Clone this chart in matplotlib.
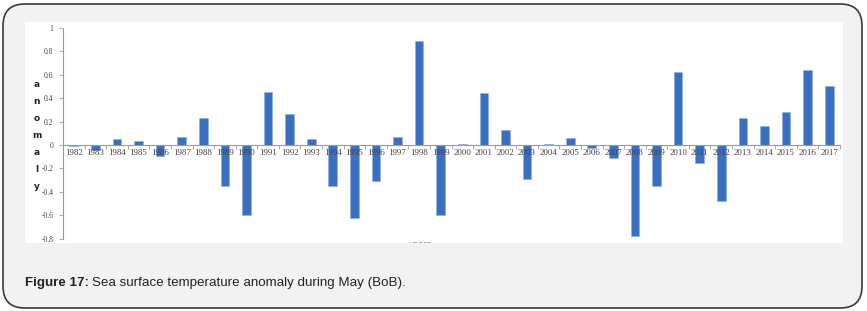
import matplotlib.pyplot as plt
from matplotlib.patches import FancyBboxPatch, Rectangle
from matplotlib.ticker import FuncFormatter, MultipleLocator

# Anomalia SST de mayo, Bahia de Bengala
years = [str(y) for y in range(1982, 2018)]
anomaly = [
    -0.01, -0.04, 0.05, 0.03, -0.09, 0.07, 0.23, -0.35, -0.60, 0.45,
    0.26, 0.05, -0.35, -0.62, -0.31, 0.07, 0.89, -0.60, 0.01, 0.44,
    0.13, -0.29, 0.01, 0.06, -0.03, -0.11, -0.78, -0.35, 0.62, -0.15,
    -0.48, 0.23, 0.16, 0.28, 0.64, 0.50,
]
y_ticks = [-0.8, -0.6, -0.4, -0.2, 0, 0.2, 0.4, 0.6, 0.8, 1]

BAR_COLOR = "#3a6fc1"
W, H = 867, 311

fig = plt.figure(figsize=(W / 100, H / 100), dpi=100)
fig.patch.set_facecolor("white")

# ── Marco exterior gris con esquinas redondeadas ─────────────
frame = FancyBboxPatch((3 / W, 3 / H), 859 / W, 304 / H,
                       boxstyle="round,pad=0,rounding_size=0.025",
                       transform=fig.transFigure, facecolor="#f2f2f2",
                       edgecolor="#3a3a3a", linewidth=1.2, mutation_aspect=W / H,
                       zorder=-3)
fig.add_artist(frame)

# ── Area blanca del grafico ──────────────────────────────────
white = Rectangle((25 / W, 1 - 243 / H), (843 - 25) / W, (243 - 22) / H,
                  transform=fig.transFigure, facecolor="white", edgecolor="none",
                  zorder=-2)
fig.add_artist(white)

ax = fig.add_axes([63 / W, 1 - 238.8 / H, 777 / W, (238.8 - 27.7) / H])
ax.set_facecolor("none")
x = list(range(len(years)))
ax.bar(x, anomaly, width=0.4, color=BAR_COLOR, edgecolor="#8fb0e0", linewidth=0.4)

ax.set_xlim(-0.5, len(years) - 0.5)
ax.set_ylim(-0.8, 1)

for s in ("top", "right"):
    ax.spines[s].set_visible(False)
ax.spines["bottom"].set_position(("data", 0))
ax.spines["left"].set_color("#9a9a9a")
ax.spines["bottom"].set_color("#9a9a9a")
ax.spines["left"].set_linewidth(0.8)
ax.spines["bottom"].set_linewidth(0.8)

ax.set_yticks(y_ticks)
ax.yaxis.set_major_formatter(FuncFormatter(lambda v, _: f"{v:g}"))
ax.tick_params(axis="y", length=3, width=0.6, color="#9a9a9a",
               labelsize=5.5, labelcolor="#444444", pad=4)

ax.set_xticks(x)
ax.set_xticklabels(years, family="Liberation Serif")
ax.xaxis.set_minor_locator(MultipleLocator(1, offset=0.5))
ax.tick_params(axis="x", which="major", length=0, labelsize=6.5,
               labelcolor="#444444", pad=3)
ax.tick_params(axis="x", which="minor", length=3, width=0.6, color="#9a9a9a")
for lbl in ax.get_yticklabels():
    lbl.set_family("Liberation Serif")

# Etiqueta vertical letra por letra
fig.text(37 / W, 1 - 135.5 / H, "\n".join("anomaly"), fontsize=6.5,
         fontweight="bold", ha="center", va="center", linespacing=2.15,
         color="#222222")

# Titulo de eje x recortado por el borde inferior del area blanca
xl = fig.text(420 / W, 1 - 249 / H, "years", fontsize=6, ha="center",
              va="bottom", color="#888888")
xl.set_clip_path(white)

# ── Leyenda de figura ────────────────────────────────────────
cap_y = 1 - 283 / H
t1 = fig.text(25 / W, cap_y, "Figure 17:", fontsize=9.6, fontweight="bold",
              family="Liberation Sans", va="center", color="#222222")
fig.canvas.draw()
bb = t1.get_window_extent()
fig.text(bb.x1 / W + 3 / W, cap_y, "Sea surface temperature anomaly during May (BoB).",
         fontsize=9.6, family="Liberation Sans", va="center", color="#222222")

fig.savefig("out.png", dpi=100)
